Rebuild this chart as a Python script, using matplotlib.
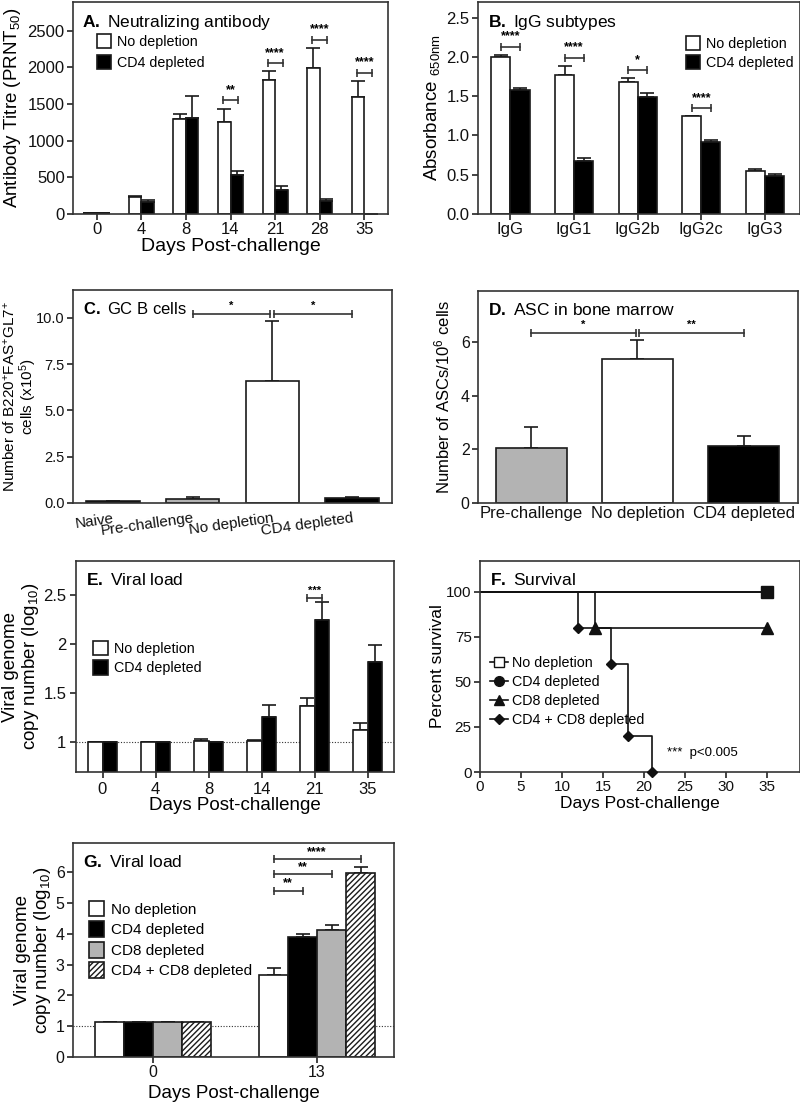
import numpy as np
import matplotlib
matplotlib.use('Agg')
import matplotlib.pyplot as plt
from matplotlib.patches import Patch
from matplotlib.lines import Line2D

plt.rcParams['font.family'] = ['Liberation Sans', 'DejaVu Sans']
plt.rcParams['mathtext.fontset'] = 'custom'
plt.rcParams['mathtext.rm'] = 'Liberation Sans'
plt.rcParams['mathtext.bf'] = 'Liberation Sans:bold'
plt.rcParams['mathtext.it'] = 'Liberation Sans:italic'
plt.rcParams['hatch.linewidth'] = 1.0
plt.rcParams['axes.linewidth'] = 1.2

# ---------------- data ----------------
# Panel A
a_days = ['0', '4', '8', '14', '21', '28', '35']
a_nodep = [15, 232, 1295, 1252, 1825, 1995, 1600]
a_nodep_err = [5, 12, 70, 185, 120, 265, 210]
a_cd4 = [15, 158, 1310, 532, 330, 180, 0]
a_cd4_err = [3, 28, 305, 58, 58, 23, 0]
a_sig = ['', '', '', '**', '****', '****', '****']

# Panel B
b_cats = ['IgG', 'IgG1', 'IgG2b', 'IgG2c', 'IgG3']
b_nodep = [2.00, 1.765, 1.676, 1.244, 0.55]
b_nodep_err = [0.03, 0.125, 0.06, 0.008, 0.02]
b_cd4 = [1.58, 0.676, 1.487, 0.912, 0.487]
b_cd4_err = [0.03, 0.042, 0.06, 0.025, 0.026]
b_sig = ['****', '****', '*', '****', '']

# Panel C
c_cats = ['Naive', 'Pre-challenge', 'No depletion', 'CD4 depleted']
c_vals = [0.1, 0.2, 6.6, 0.27]
c_err = [0.02, 0.1, 3.22, 0.08]
c_colors = ['black', '#b3b3b3', 'white', 'black']
c_sig = [(1, 2, '*'), (2, 3, '*')]

# Panel D
d_cats = ['Pre-challenge', 'No depletion', 'CD4 depleted']
d_vals = [2.05, 5.35, 2.14]
d_err = [0.8, 0.71, 0.34]
d_colors = ['#b3b3b3', 'white', 'black']
d_sig = [(0, 1, '*'), (1, 2, '**')]

# Panel E
e_days = ['0', '4', '8', '14', '21', '35']
e_nodep = [1.0, 1.0, 1.017, 1.017, 1.367, 1.13]
e_nodep_err = [0, 0, 0.02, 0.007, 0.088, 0.07]
e_cd4 = [1.0, 1.0, 1.0, 1.26, 2.246, 1.815]
e_cd4_err = [0, 0, 0, 0.117, 0.174, 0.175]
e_sig = ['', '', '', '', '***', '']

# Panel F (Kaplan-Meier)
f_nodep_t = [0, 35]
f_nodep_s = [100, 100]
f_cd4_t = [0, 35]
f_cd4_s = [100, 100]
f_cd8_t = [0, 14, 35]
f_cd8_s = [100, 80, 80]
f_cd48_t = [0, 12, 16, 18, 21]
f_cd48_s = [100, 80, 60, 20, 0]

# Panel G
g_days = ['0', '13']
g_labels = ['No depletion', 'CD4 depleted', 'CD8 depleted', 'CD4 + CD8 depleted']
g_nodep = [1.13, 2.67]
g_nodep_err = [0.02, 0.21]
g_cd4 = [1.13, 3.89]
g_cd4_err = [0.02, 0.11]
g_cd8 = [1.13, 4.12]
g_cd8_err = [0.02, 0.16]
g_cd48 = [1.13, 5.96]
g_cd48_err = [0.02, 0.20]
g_sig = [(0, 1, '**'), (0, 2, '**'), (0, 3, '****')]

# ---------------- helpers ----------------
EC = '#1a1a1a'


def style(ax, fs, pad=2):
    for s in ax.spines.values():
        s.set_color('#333333')
        s.set_linewidth(1.2)
    ax.tick_params(direction='out', length=4, width=1.1, labelsize=fs,
                   colors='#111111', pad=pad)


def bars(ax, x, vals, errs, w, color, hatch=None):
    ax.bar(x, vals, w, color=color, edgecolor=EC, linewidth=1.2, hatch=hatch, zorder=2)
    ax.errorbar(x, vals, yerr=[np.zeros(len(errs)), errs], fmt='none',
                ecolor=EC, elinewidth=1.2, capsize=5, capthick=1.2, zorder=1)


def bracket(ax, x1, x2, y, txt, fs=9, ms=6, dy=3):
    ax.plot([x1, x2], [y, y], color='#333333', lw=1.2, zorder=3)
    ax.plot([x1, x2], [y, y], ls='none', marker='|', ms=ms, mew=1.2, color='#333333')
    ax.annotate(txt, ((x1 + x2) / 2, y), xytext=(0, dy), textcoords='offset points',
                ha='center', va='bottom', fontsize=fs, fontweight='bold')


def title(ax, letter, rest, fs, y=0.95):
    ax.text(0.03, y, r'$\mathbf{' + letter + r'.}$ ' + rest, transform=ax.transAxes,
            ha='left', va='top', fontsize=fs)


fig = plt.figure(figsize=(8, 11.02), dpi=100)
W, H = 800, 1102


def axes_px(l, r, t, b):
    return fig.add_axes([l / W, 1 - b / H, (r - l) / W, (b - t) / H])


def sq_legend(ax, handles, anchor, fs, spacing):
    ax.legend(handles=handles, loc='upper left', bbox_to_anchor=anchor, frameon=False,
              fontsize=fs, handlelength=1.0, handleheight=1.15, handletextpad=0.45,
              labelspacing=spacing, borderaxespad=0, borderpad=0)


# ---------------- Panel A ----------------
ax = axes_px(73, 388, 2, 214)
x = np.arange(len(a_days))
w = 0.28
bars(ax, x - w / 2, a_nodep, a_nodep_err, w, 'white')
bars(ax, x + w / 2, a_cd4, a_cd4_err, w, 'black')
for i, s in enumerate(a_sig):
    if s:
        top = max(a_nodep[i] + a_nodep_err[i], a_cd4[i] + a_cd4_err[i])
        bracket(ax, x[i] - 0.17, x[i] + 0.17, top + 115, s, fs=9)
ax.set_xlim(-0.53, len(a_days) - 0.47)
ax.set_ylim(0, 2890)
ax.set_yticks([0, 500, 1000, 1500, 2000, 2500])
ax.set_xticks(x)
ax.set_xticklabels(a_days)
style(ax, 12)
ax.set_ylabel(r'Antibody Titre (PRNT$_{50}$)', fontsize=13.5)
ax.yaxis.set_label_coords(-0.16, 0.5)
ax.set_xlabel('Days Post-challenge', fontsize=14)
ax.xaxis.set_label_coords(0.5, -0.112)
title(ax, 'A', 'Neutralizing antibody', 12.5)
sq_legend(ax, [Patch(facecolor='white', edgecolor=EC, lw=1.2, label='No depletion'),
               Patch(facecolor='black', edgecolor=EC, lw=1.2, label='CD4 depleted')],
          (0.075, 0.85), 10.3, 0.45)

# ---------------- Panel B ----------------
ax = axes_px(478, 800, 2, 214)
x = np.arange(len(b_cats))
w = 0.30
bars(ax, x - w / 2, b_nodep, b_nodep_err, w, 'white')
bars(ax, x + w / 2, b_cd4, b_cd4_err, w, 'black')
for i, s in enumerate(b_sig):
    if s:
        top = max(b_nodep[i] + b_nodep_err[i], b_cd4[i] + b_cd4_err[i])
        bracket(ax, x[i] - 0.15, x[i] + 0.15, top + 0.1, s, fs=9)
ax.set_xlim(-0.51, 4.55)
ax.set_ylim(0, 2.7)
ax.set_yticks([0, 0.5, 1.0, 1.5, 2.0, 2.5])
ax.set_yticklabels(['0.0', '0.5', '1.0', '1.5', '2.0', '2.5'])
ax.set_xticks(x)
ax.set_xticklabels(b_cats)
style(ax, 12)
ax.set_ylabel(r'Absorbance $_{\mathrm{650nm}}$', fontsize=13.5)
ax.yaxis.set_label_coords(-0.112, 0.5)
title(ax, 'B', 'IgG subtypes', 12.5)
sq_legend(ax, [Patch(facecolor='white', edgecolor=EC, lw=1.2, label='No depletion'),
               Patch(facecolor='black', edgecolor=EC, lw=1.2, label='CD4 depleted')],
          (0.645, 0.84), 10.3, 0.3)

# ---------------- Panel C ----------------
ax = axes_px(73, 392, 290, 503)
x = np.arange(len(c_cats))
for i in range(len(c_cats)):
    bars(ax, [x[i]], [c_vals[i]], [c_err[i]], 0.67, c_colors[i])
for (i, j, s) in c_sig:
    gap = 0.025
    x1 = x[i] + (gap if i == 2 else 0)
    x2 = x[j] - (gap if j == 2 else 0)
    bracket(ax, x1, x2, 10.2, s, fs=8, dy=2)
ax.set_xlim(-0.5, 3.5)
ax.set_ylim(0, 11.5)
ax.set_yticks([0, 2.5, 5.0, 7.5, 10.0])
ax.set_yticklabels(['0.0', '2.5', '5.0', '7.5', '10.0'])
ax.set_xticks(x)
ax.set_xticklabels(c_cats, rotation=8, ha='right', rotation_mode='anchor')
style(ax, 10.5)
ax.tick_params(axis='x', length=0, labelsize=11, pad=6)
ax.set_ylabel('Number of B220$^{+}$FAS$^{+}$GL7$^{+}$\ncells (x10$^{5}$)', fontsize=11,
              linespacing=0.95)
ax.yaxis.set_label_coords(-0.108, 0.5)
title(ax, 'C', 'GC B cells', 12)

# ---------------- Panel D ----------------
ax = axes_px(478, 798, 291, 503)
x = np.arange(len(d_cats))
for i in range(len(d_cats)):
    bars(ax, [x[i]], [d_vals[i]], [d_err[i]], 0.67, d_colors[i])
for (i, j, s) in d_sig:
    gap = 0.012
    x1 = x[i] + (gap if i == 1 else 0)
    x2 = x[j] - (gap if j == 1 else 0)
    bracket(ax, x1, x2, 6.35, s, fs=8, dy=2)
ax.set_xlim(-0.5, 2.51)
ax.set_ylim(0, 7.9)
ax.set_yticks([0, 2, 4, 6])
ax.set_xticks(x)
ax.set_xticklabels(d_cats)
style(ax, 11.5)
ax.tick_params(axis='x', length=0, labelsize=12)
ax.set_ylabel('Number of ASCs/10$^{6}$ cells', fontsize=12)
ax.yaxis.set_label_coords(-0.081, 0.5)
title(ax, 'D', 'ASC in bone marrow', 12.5)

# ---------------- Panel E ----------------
ax = axes_px(76, 394, 561, 772)
x = np.arange(len(e_days))
w = 0.28
bars(ax, x - w / 2, e_nodep, e_nodep_err, w, 'white')
bars(ax, x + w / 2, e_cd4, e_cd4_err, w, 'black')
ax.axhline(1.0, color='#333333', lw=0.8, ls=(0, (1, 1.5)), zorder=1.5)
for i, s in enumerate(e_sig):
    if s:
        top = max(e_nodep[i] + e_nodep_err[i], e_cd4[i] + e_cd4_err[i])
        bracket(ax, x[i] - 0.14, x[i] + 0.14, top + 0.04, s, fs=8, dy=2)
ax.set_xlim(-0.5, 5.5)
ax.set_ylim(0.7, 2.84)
ax.set_yticks([1, 1.5, 2, 2.5])
ax.set_yticklabels(['1', '1.5', '2', '2.5'])
ax.set_xticks(x)
ax.set_xticklabels(e_days)
style(ax, 12, pad=3)
ax.set_ylabel('Viral genome\ncopy number (log$_{10}$)', fontsize=13.5, linespacing=1.05)
ax.yaxis.set_label_coords(-0.11, 0.5)
ax.set_xlabel('Days Post-challenge', fontsize=13.5)
ax.xaxis.set_label_coords(0.5, -0.118)
title(ax, 'E', 'Viral load', 12.5)
sq_legend(ax, [Patch(facecolor='white', edgecolor=EC, lw=1.2, label='No depletion'),
               Patch(facecolor='black', edgecolor=EC, lw=1.2, label='CD4 depleted')],
          (0.055, 0.62), 10.3, 0.3)

# ---------------- Panel F ----------------
ax = axes_px(480, 800, 561, 772)
kc = '#111111'
ax.step(f_nodep_t, f_nodep_s, where='post', color=kc, lw=1.2, zorder=2)
ax.step(f_cd4_t, f_cd4_s, where='post', color=kc, lw=1.2, zorder=2)
ax.step(f_cd8_t, f_cd8_s, where='post', color=kc, lw=1.2, zorder=2)
ax.step(f_cd48_t, f_cd48_s, where='post', color=kc, lw=1.2, zorder=2)
ax.plot(f_cd4_t[1:], f_cd4_s[1:], ls='none', marker='o', ms=8, color=kc, zorder=3, clip_on=False)
ax.plot(f_nodep_t[1:], f_nodep_s[1:], ls='none', marker='s', ms=8, color=kc, zorder=4, clip_on=False)
ax.plot(f_cd8_t[1:], f_cd8_s[1:], ls='none', marker='^', ms=8, color=kc, zorder=3, clip_on=False)
ax.plot(f_cd48_t[1:], f_cd48_s[1:], ls='none', marker='D', ms=5.5, color=kc, zorder=3, clip_on=False)
ax.set_xlim(0, 39)
ax.set_ylim(0, 117)
ax.set_xticks([0, 5, 10, 15, 20, 25, 30, 35])
ax.set_yticks([0, 25, 50, 75, 100])
style(ax, 11)
ax.set_ylabel('Percent survival', fontsize=12.5)
ax.yaxis.set_label_coords(-0.109, 0.5)
ax.set_xlabel('Days Post-challenge', fontsize=12.5)
ax.xaxis.set_label_coords(0.5, -0.115)
title(ax, 'F', 'Survival', 12.5)
ax.text(0.585, 0.09, '***  p<0.005', transform=ax.transAxes, fontsize=9.5, ha='left', va='center')
fh = [Line2D([], [], color=kc, lw=1.2, marker='s', ms=7, mfc='white', label='No depletion'),
      Line2D([], [], color=kc, lw=1.2, marker='o', ms=7, label='CD4 depleted'),
      Line2D([], [], color=kc, lw=1.2, marker='^', ms=7, label='CD8 depleted'),
      Line2D([], [], color=kc, lw=1.2, marker='D', ms=5, label='CD4 + CD8 depleted')]
ax.legend(handles=fh, loc='upper left', bbox_to_anchor=(0.03, 0.55), frameon=False,
          fontsize=10.3, handlelength=1.3, handletextpad=0.3, labelspacing=0.35,
          borderaxespad=0, borderpad=0)

# ---------------- Panel G ----------------
ax = axes_px(73, 394, 843, 1057)
x = np.arange(len(g_days))
w = 0.177
g_series = [(g_nodep, g_nodep_err, 'white', None),
            (g_cd4, g_cd4_err, 'black', None),
            (g_cd8, g_cd8_err, '#b3b3b3', None),
            (g_cd48, g_cd48_err, 'white', '//////')]
offs = (np.arange(4) - 1.5) * w
for k, (v, e, c, h) in enumerate(g_series):
    bars(ax, x + offs[k], v, e, w, c, hatch=h)
ax.axhline(1.0, color='#333333', lw=0.8, ls=(0, (1, 1.5)), zorder=1.5)
gy = [5.39, 5.93, 6.42]
for n, (i, j, s) in enumerate(g_sig):
    bracket(ax, x[1] + offs[i], x[1] + offs[j], gy[n], s, fs=9, dy=1)
ax.set_xlim(-0.49, 1.47)
ax.set_ylim(0, 6.95)
ax.set_yticks([0, 1, 2, 3, 4, 5, 6])
ax.set_xticks(x)
ax.set_xticklabels(g_days)
style(ax, 11.5)
ax.set_ylabel('Viral genome\ncopy number (log$_{10}$)', fontsize=13.5, linespacing=1.05)
ax.yaxis.set_label_coords(-0.062, 0.5)
ax.set_xlabel('Days Post-challenge', fontsize=13.5)
ax.xaxis.set_label_coords(0.5, -0.13)
title(ax, 'G', 'Viral load', 12.5)
gh = [Patch(facecolor=c, edgecolor=EC, lw=1.2, hatch=h, label=l)
      for (v, e, c, h), l in zip(g_series, g_labels)]
ax.legend(handles=gh, loc='upper left', bbox_to_anchor=(0.05, 0.73), frameon=False,
          fontsize=11, handlelength=1.0, handleheight=1.2, handletextpad=0.45,
          labelspacing=0.3, borderaxespad=0, borderpad=0)

fig.savefig('out.png', dpi=100)
